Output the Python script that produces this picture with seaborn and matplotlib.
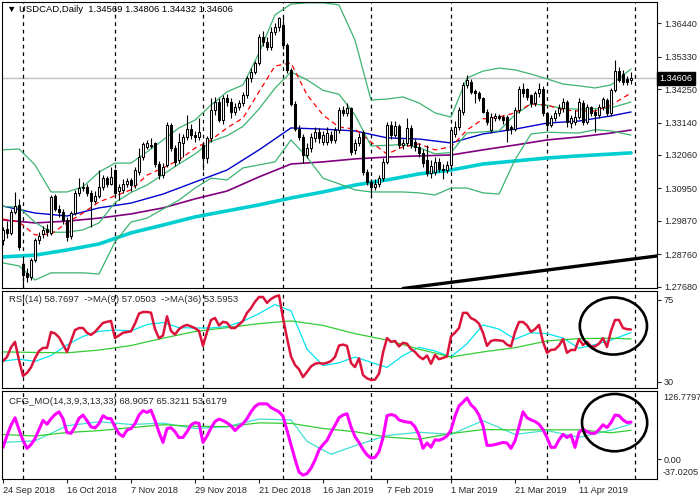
import matplotlib
matplotlib.use("Agg")
import matplotlib.pyplot as plt
import matplotlib.transforms as mtransforms
from matplotlib.patches import Ellipse
import seaborn as sns


# candles (daily bars, 24 Sep 2018 .. 1 May 2019)
opens = [
    1.2923, 1.2960, 1.2948, 1.3017, 1.3040, 1.2845, 1.2815, 1.2800, 1.2858, 1.2923,
    1.2942, 1.2960, 1.2948, 1.3068, 1.3028, 1.3017, 1.2989, 1.2935, 1.3014, 1.3080,
    1.3095, 1.3100, 1.3080, 1.3054, 1.3071, 1.3100, 1.3128, 1.3111, 1.3155, 1.3085,
    1.3088, 1.3111, 1.3122, 1.3106, 1.3150, 1.3200, 1.3233, 1.3235, 1.3245, 1.3176,
    1.3139, 1.3172, 1.3305, 1.3228, 1.3189, 1.3245, 1.3265, 1.3294, 1.3272, 1.3266,
    1.3240, 1.3195, 1.3261, 1.3355, 1.3383, 1.3322, 1.3394, 1.3383, 1.3350, 1.3366,
    1.3378, 1.3405, 1.3461, 1.3483, 1.3511, 1.3599, 1.3583, 1.3566, 1.3616, 1.3633,
    1.3638, 1.3572, 1.3488, 1.3377, 1.3294, 1.3267, 1.3206, 1.3228, 1.3262, 1.3283,
    1.3248, 1.3250, 1.3273, 1.3256, 1.3289, 1.3356, 1.3345, 1.3361, 1.3222, 1.3245,
    1.3283, 1.3150, 1.3117, 1.3100, 1.3111, 1.3128, 1.3184, 1.3306, 1.3272, 1.3302,
    1.3239, 1.3245, 1.3295, 1.3250, 1.3234, 1.3211, 1.3190, 1.3145, 1.3150, 1.3184,
    1.3161, 1.3155, 1.3173, 1.3275, 1.3300, 1.3350, 1.3439, 1.3450, 1.3420, 1.3411,
    1.3394, 1.3350, 1.3289, 1.3330, 1.3336, 1.3333, 1.3333, 1.3300, 1.3294, 1.3355,
    1.3425, 1.3425, 1.3405, 1.3378, 1.3411, 1.3427, 1.3344, 1.3306, 1.3328, 1.3344,
    1.3361, 1.3383, 1.3313, 1.3317, 1.3333, 1.3380, 1.3317, 1.3366, 1.3350, 1.3339,
    1.3366, 1.3389, 1.3344, 1.3422, 1.3486, 1.3475, 1.3460, 1.34569,
]
highs = [
    1.2965, 1.2985, 1.3025, 1.3084, 1.3060, 1.2870, 1.2830, 1.2865, 1.2930, 1.2950,
    1.2970, 1.2975, 1.3072, 1.3075, 1.3040, 1.3025, 1.3000, 1.3020, 1.3090, 1.3130,
    1.3115, 1.3110, 1.3090, 1.3085, 1.3155, 1.3140, 1.3135, 1.3165, 1.3160, 1.3110,
    1.3125, 1.3130, 1.3130, 1.3165, 1.3228, 1.3250, 1.3255, 1.3262, 1.3250, 1.3185,
    1.3180, 1.3315, 1.3312, 1.3240, 1.3280, 1.3275, 1.3340, 1.3310, 1.3285, 1.3330,
    1.3250, 1.3270, 1.3395, 1.3400, 1.3395, 1.3405, 1.3410, 1.3395, 1.3380, 1.3390,
    1.3415, 1.3470, 1.3495, 1.3520, 1.3610, 1.3620, 1.3600, 1.3630, 1.3645, 1.3665,
    1.3668, 1.3580, 1.3495, 1.3385, 1.3305, 1.3275, 1.3245, 1.3280, 1.3300, 1.3295,
    1.3285, 1.3300, 1.3285, 1.3300, 1.3365, 1.3370, 1.3378, 1.3365, 1.3260, 1.3280,
    1.3290, 1.3160, 1.3125, 1.3125, 1.3140, 1.3195, 1.3315, 1.3320, 1.3320, 1.3310,
    1.3260, 1.3330, 1.3305, 1.3260, 1.3245, 1.3225, 1.3240, 1.3190, 1.3200, 1.3195,
    1.3175, 1.3185, 1.3300, 1.3320, 1.3365, 1.3450, 1.3472, 1.3460, 1.3425, 1.3420,
    1.3400, 1.3360, 1.3345, 1.3345, 1.3342, 1.3340, 1.3340, 1.3305, 1.3365, 1.3435,
    1.3445, 1.3430, 1.3410, 1.3420, 1.3445, 1.3435, 1.3350, 1.3340, 1.3355, 1.3375,
    1.3395, 1.3390, 1.3340, 1.3355, 1.3395, 1.3390, 1.3375, 1.3370, 1.3360, 1.3375,
    1.3400, 1.3395, 1.3430, 1.3522, 1.3500, 1.3490, 1.3470, 1.34806,
]
lows = [
    1.2905, 1.2930, 1.2940, 1.3010, 1.2890, 1.2768, 1.2782, 1.2790, 1.2850, 1.2910,
    1.2930, 1.2935, 1.2940, 1.3020, 1.3000, 1.2975, 1.2920, 1.2928, 1.3005, 1.3070,
    1.3085, 1.3070, 1.2967, 1.3045, 1.3062, 1.3090, 1.3100, 1.3105, 1.3070, 1.3055,
    1.3080, 1.3100, 1.3085, 1.3095, 1.3140, 1.3190, 1.3225, 1.3228, 1.3165, 1.3125,
    1.3130, 1.3165, 1.3220, 1.3170, 1.3180, 1.3200, 1.3255, 1.3260, 1.3250, 1.3255,
    1.3155, 1.3180, 1.3250, 1.3340, 1.3315, 1.3310, 1.3370, 1.3330, 1.3340, 1.3355,
    1.3370, 1.3395, 1.3450, 1.3475, 1.3505, 1.3570, 1.3555, 1.3555, 1.3605, 1.3620,
    1.3560, 1.3480, 1.3370, 1.3285, 1.3255, 1.3178, 1.3195, 1.3215, 1.3250, 1.3245,
    1.3240, 1.3240, 1.3245, 1.3245, 1.3280, 1.3335, 1.3335, 1.3205, 1.3210, 1.3235,
    1.3140, 1.3105, 1.3067, 1.3090, 1.3100, 1.3120, 1.3175, 1.3260, 1.3265, 1.3230,
    1.3225, 1.3235, 1.3230, 1.3220, 1.3200, 1.3165, 1.3135, 1.3130, 1.3140, 1.3150,
    1.3125, 1.3145, 1.3160, 1.3265, 1.3290, 1.3340, 1.3430, 1.3410, 1.3380, 1.3385,
    1.3345, 1.3305, 1.3280, 1.3320, 1.3322, 1.3310, 1.3250, 1.3275, 1.3285, 1.3345,
    1.3400, 1.3390, 1.3365, 1.3370, 1.3400, 1.3335, 1.3295, 1.3300, 1.3320, 1.3335,
    1.3350, 1.3300, 1.3295, 1.3305, 1.3325, 1.3305, 1.3310, 1.3335, 1.3283, 1.3330,
    1.3355, 1.3335, 1.3335, 1.3415, 1.3450, 1.3440, 1.3440, 1.34432,
]
closes = [
    1.2956, 1.2948, 1.3017, 1.3036, 1.2901, 1.2806, 1.2800, 1.2858, 1.2923, 1.2936,
    1.2956, 1.2950, 1.3065, 1.3028, 1.3017, 1.2989, 1.2932, 1.3014, 1.3080, 1.3095,
    1.3100, 1.3080, 1.3054, 1.3071, 1.3100, 1.3128, 1.3111, 1.3133, 1.3080, 1.3100,
    1.3111, 1.3120, 1.3106, 1.3156, 1.3200, 1.3244, 1.3245, 1.3240, 1.3176, 1.3139,
    1.3167, 1.3305, 1.3228, 1.3183, 1.3250, 1.3265, 1.3294, 1.3272, 1.3266, 1.3283,
    1.3195, 1.3261, 1.3355, 1.3383, 1.3322, 1.3394, 1.3383, 1.3350, 1.3366, 1.3378,
    1.3405, 1.3461, 1.3483, 1.3511, 1.3599, 1.3583, 1.3566, 1.3616, 1.3633, 1.3660,
    1.3572, 1.3488, 1.3377, 1.3294, 1.3267, 1.3206, 1.3228, 1.3267, 1.3283, 1.3261,
    1.3272, 1.3278, 1.3256, 1.3289, 1.3356, 1.3345, 1.3361, 1.3217, 1.3245, 1.3267,
    1.3150, 1.3117, 1.3100, 1.3111, 1.3128, 1.3184, 1.3306, 1.3272, 1.3302, 1.3239,
    1.3245, 1.3295, 1.3239, 1.3234, 1.3211, 1.3178, 1.3145, 1.3170, 1.3184, 1.3161,
    1.3155, 1.3173, 1.3289, 1.3300, 1.3356, 1.3439, 1.3455, 1.3417, 1.3411, 1.3394,
    1.3350, 1.3317, 1.3333, 1.3336, 1.3330, 1.3322, 1.3289, 1.3294, 1.3355, 1.3427,
    1.3411, 1.3400, 1.3378, 1.3411, 1.3427, 1.3344, 1.3306, 1.3328, 1.3344, 1.3361,
    1.3383, 1.3317, 1.3328, 1.3333, 1.3383, 1.3317, 1.3366, 1.3344, 1.3339, 1.3366,
    1.3391, 1.3344, 1.3422, 1.3486, 1.3457, 1.3450, 1.3450, 1.34606,
]

# main window indicators, read every few bars
bb_bars = [0, 4, 8, 12, 16, 20, 24, 28, 32, 36, 40, 44, 48, 52, 56, 60, 64, 68, 72, 76,
           80, 84, 88, 92, 96, 100, 104, 108, 112, 116, 120, 124, 128, 132, 136, 140,
           144, 148, 152, 157]
bb_upper = [1.3223, 1.3226, 1.3173, 1.3083, 1.3083, 1.3100, 1.3149, 1.3179, 1.3179, 1.3216,
            1.3256, 1.3296, 1.3322, 1.3372, 1.3416, 1.3439, 1.3545, 1.3672, 1.3708, 1.3712,
            1.3712, 1.3705, 1.3588, 1.3389, 1.3392, 1.3399, 1.3379, 1.3346, 1.3332, 1.3462,
            1.3485, 1.3495, 1.3489, 1.3475, 1.3459, 1.3442, 1.3436, 1.3429, 1.3439, 1.3492]
bb_middle = [1.3035, 1.3032, 1.2982, 1.2949, 1.2949, 1.2957, 1.2980, 1.3048, 1.3081, 1.3106,
             1.3141, 1.3176, 1.3209, 1.3251, 1.3270, 1.3301, 1.3359, 1.3428, 1.3482, 1.3456,
             1.3421, 1.3408, 1.3339, 1.3236, 1.3238, 1.3241, 1.3230, 1.3210, 1.3214, 1.3279,
             1.3283, 1.3286, 1.3340, 1.3376, 1.3371, 1.3361, 1.3358, 1.3360, 1.3363, 1.3382]
bb_lower = [1.2847, 1.2837, 1.2790, 1.2814, 1.2814, 1.2814, 1.2810, 1.2917, 1.2983, 1.2996,
            1.3026, 1.3056, 1.3096, 1.3129, 1.3123, 1.3163, 1.3173, 1.3183, 1.3256, 1.3199,
            1.3129, 1.3110, 1.3090, 1.3083, 1.3083, 1.3083, 1.3080, 1.3073, 1.3096, 1.3096,
            1.3080, 1.3076, 1.3190, 1.3276, 1.3282, 1.3280, 1.3279, 1.3290, 1.3286, 1.3272]
ma_fast = [1.2993, 1.2983, 1.2940, 1.2943, 1.2980, 1.3013, 1.3050, 1.3070, 1.3090, 1.3139,
           1.3163, 1.3189, 1.3229, 1.3256, 1.3296, 1.3329, 1.3416, 1.3502, 1.3512, 1.3406,
           1.3339, 1.3299, 1.3292, 1.3249, 1.3209, 1.3233, 1.3243, 1.3223, 1.3233, 1.3289,
           1.3326, 1.3332, 1.3346, 1.3376, 1.3372, 1.3356, 1.3352, 1.3352, 1.3372, 1.3412]

ma_bars = [0, 8, 16, 24, 32, 40, 48, 56, 64, 72, 80, 88, 96, 104, 112, 120, 128, 136,
           144, 152, 157]
ma_blue = [1.3036, 1.3013, 1.3003, 1.3030, 1.3046, 1.3076, 1.3116, 1.3156, 1.3223, 1.3296,
           1.3292, 1.3286, 1.3263, 1.3259, 1.3246, 1.3276, 1.3292, 1.3312, 1.3319, 1.3336,
           1.3349]
ma_purple = [1.2990, 1.2980, 1.2986, 1.2996, 1.3010, 1.3030, 1.3060, 1.3086, 1.3133, 1.3176,
             1.3183, 1.3193, 1.3199, 1.3203, 1.3206, 1.3223, 1.3239, 1.3256, 1.3266, 1.3279,
             1.3289]
ma_cyan = [1.2867, 1.2873, 1.2890, 1.2910, 1.2947, 1.2973, 1.3000, 1.3020, 1.3040, 1.3063,
           1.3083, 1.3106, 1.3123, 1.3143, 1.3156, 1.3176, 1.3186, 1.3196, 1.3203, 1.3209,
           1.3213]

trend_bars = [100, 164]
trend_prices = [1.2762, 1.2871]

# RSI window
rsi = [
    41.5, 43.7, 49.0, 52.0, 42.0, 33.3, 35.0, 38.0, 43.0, 47.0,
    48.7, 48.7, 57.4, 56.6, 54.5, 50.5, 46.5, 52.5, 58.5, 59.6,
    59.6, 57.0, 55.8, 57.5, 60.0, 62.4, 63.0, 63.5, 54.1, 55.5,
    57.0, 57.4, 57.8, 62.0, 67.5, 68.4, 68.4, 68.0, 59.0, 54.0,
    55.5, 66.0, 58.0, 56.0, 59.0, 60.5, 61.3, 60.5, 59.5, 58.0,
    49.8, 57.4, 64.0, 65.1, 61.0, 63.0, 62.5, 59.6, 59.6, 61.5,
    63.5, 67.9, 70.5, 74.0, 76.6, 76.6, 73.4, 75.5, 76.8, 77.5,
    65.1, 54.1, 44.0, 39.3, 37.0, 32.7, 35.5, 38.5, 40.0, 40.4,
    40.0, 40.5, 41.5, 43.7, 50.0, 50.5, 49.8, 40.4, 38.2, 43.0,
    33.8, 32.0, 31.1, 31.3, 34.5, 46.0, 54.1, 52.0, 52.5, 49.5,
    51.5, 51.0, 48.0, 46.5, 44.0, 42.5, 44.5, 40.0, 44.8, 42.5,
    43.2, 44.0, 55.0, 57.0, 59.6, 67.9, 67.9, 65.0, 64.0, 62.0,
    57.0, 49.8, 52.5, 53.0, 52.8, 52.5, 50.5, 49.5, 57.4, 62.9,
    62.9, 61.0, 57.5, 59.0, 61.3, 52.0, 46.0, 47.6, 47.8, 50.0,
    53.5, 46.0, 47.6, 47.5, 53.5, 50.3, 52.0, 49.5, 49.5, 51.0,
    54.0, 49.2, 58.0, 64.0, 64.0, 59.6, 59.0, 58.7697,
]
rsi_ma9_bars = [0, 4, 8, 12, 16, 20, 24, 28, 32, 36, 40, 44, 48, 52, 56, 60, 64, 68, 72, 76,
                80, 84, 88, 92, 96, 100, 104, 108, 112, 116, 120, 124, 128, 132, 136, 140,
                144, 148, 152, 157]
rsi_ma9 = [41.5, 42.5, 41.3, 44.5, 50.3, 55.0, 57.8, 58.5, 58.0, 61.5,
           62.6, 59.8, 59.6, 59.6, 60.5, 63.3, 67.5, 72.5, 69.0, 48.0,
           39.0, 40.5, 43.7, 40.8, 38.0, 44.5, 49.0, 47.0, 43.8, 51.0,
           61.3, 59.0, 53.5, 57.0, 56.5, 54.1, 48.5, 50.5, 53.0, 57.05]
rsi_ma36 = [46.5, 46.2, 46.0, 47.5, 50.0, 54.0, 57.7, 59.8, 62.0, 63.5,
            61.0, 56.5, 53.0, 48.0, 43.7, 46.5, 48.8, 52.5, 53.8, 54.0,
            53.6]

# CFG_MO window
cfg = [
    21.9, 44.0, 63.0, 77.0, 55.0, 34.8, 20.0, 27.0, 38.0, 55.0,
    72.0, 65.0, 75.0, 83.0, 88.0, 75.3, 49.5, 48.0, 60.0, 76.0,
    82.0, 71.6, 60.0, 58.0, 66.0, 80.8, 76.0, 75.3, 60.0, 47.0,
    42.1, 54.0, 56.8, 66.0, 82.0, 90.0, 87.0, 91.0, 72.0, 50.0,
    31.1, 56.8, 58.5, 51.0, 40.0, 40.5, 51.0, 63.5, 67.9, 66.5,
    31.1, 43.0, 58.0, 70.0, 74.5, 71.6, 67.5, 62.0, 53.2, 60.5,
    66.0, 75.3, 88.0, 98.0, 102.9, 103.0, 102.9, 96.0, 92.0, 88.0,
    80.0, 53.2, 26.0, 0.0, -24.1, -29.7, -27.0, -17.0, -2.0, 17.0,
    27.0, 34.8, 50.0, 63.0, 77.0, 82.0, 84.4, 60.0, 42.0, 31.0,
    18.0, 8.0, 2.0, 3.0, 14.0, 40.0, 80.8, 83.0, 81.0, 73.0,
    70.5, 69.0, 68.0, 60.0, 45.0, 20.0, 30.0, 22.0, 36.0, 35.0,
    38.0, 43.0, 54.0, 80.0, 99.0, 106.0, 113.9, 101.0, 94.0, 82.0,
    62.0, 25.6, 25.6, 27.0, 29.0, 31.1, 30.0, 20.0, 34.0, 60.0,
    88.1, 77.0, 73.0, 70.0, 65.0, 55.0, 40.3, 21.9, 21.9, 36.0,
    46.0, 40.3, 45.0, 21.9, 50.0, 56.0, 51.0, 48.0, 48.0, 55.0,
    64.0, 58.7, 68.0, 82.0, 81.0, 73.0, 68.0, 68.9057,
]
cfg_fast_bars = [0, 8, 16, 24, 32, 40, 48, 56, 64, 72, 76, 82, 88, 96, 104, 112, 120, 128,
                 136, 144, 152, 157]
cfg_fast = [31.1, 34.0, 62.0, 69.5, 64.5, 67.0, 57.0, 60.5, 74.5, 73.0, 33.0, 9.0, 25.0,
            44.0, 50.0, 46.0, 71.6, 46.0, 53.2, 40.5, 54.0, 65.3211]
cfg_slow = [45.8, 43.0, 49.5, 53.0, 58.5, 64.0, 61.0, 60.5, 67.5, 66.5, 57.0, 51.0,
            41.0, 37.0, 47.6, 55.0, 54.5, 54.5, 54.5, 49.0, 53.6179]

date_labels = ["24 Sep 2018", "16 Oct 2018", "7 Nov 2018", "29 Nov 2018", "21 Dec 2018",
               "16 Jan 2019", "7 Feb 2019", "1 Mar 2019", "21 Mar 2019", "11 Apr 2019"]
month_starts = [5, 28, 50, 70, 92, 112, 136, 158]
price_ticks = [1.36440, 1.35330, 1.34250, 1.33140, 1.32060, 1.30950, 1.29870, 1.28760, 1.27680]
last_price = 1.34606


sns.set_style("white")
plt.rcParams["font.family"] = ["Liberation Sans", "DejaVu Sans"]
plt.rcParams["axes.linewidth"] = 0.8

FS = 6.8
X_LEFT, X_RIGHT = -0.25, 163.5


def draw_line(ax, bars, values, color, lw, ls="-"):
    sns.lineplot(x=bars, y=values, ax=ax, color=color, linewidth=lw,
                 linestyle=ls, legend=False, sort=False, estimator=None)


def frame(ax):
    for side in ["top", "bottom", "left", "right"]:
        ax.spines[side].set_visible(True)
        ax.spines[side].set_color("black")
    ax.set_xlim(X_LEFT, X_RIGHT)
    ax.yaxis.tick_right()
    ax.tick_params(axis="y", direction="out", length=3, width=0.8, labelsize=6.6, pad=2)
    ax.set_xlabel("")
    ax.set_ylabel("")
    for b in month_starts:
        ax.axvline(b, color="black", linewidth=0.9, linestyle=(0, (3, 3)), zorder=1)


fig = plt.figure(figsize=(7, 5), dpi=100)
fig.patch.set_facecolor("white")
ax_price = fig.add_axes([2 / 700, 1 - 288 / 500, 655 / 700, 286 / 500])
ax_rsi = fig.add_axes([2 / 700, 1 - 388 / 500, 655 / 700, 97 / 500])
ax_cfg = fig.add_axes([2 / 700, 1 - 479 / 500, 655 / 700, 88 / 500])

# ---- price window
ax = ax_price
ax.axhline(last_price, color="#C0C0C0", linewidth=1, zorder=1)
draw_line(ax, ma_bars, ma_cyan, "#00CED1", 2.6)
draw_line(ax, ma_bars, ma_purple, "#800080", 1.2)
draw_line(ax, ma_bars, ma_blue, "#0000CD", 1.0)
draw_line(ax, bb_bars, bb_upper, "#3CB371", 0.9)
draw_line(ax, bb_bars, bb_middle, "#3CB371", 0.9)
draw_line(ax, bb_bars, bb_lower, "#3CB371", 0.9)
draw_line(ax, bb_bars, ma_fast, "red", 0.9, (0, (4, 3)))
draw_line(ax, trend_bars, trend_prices, "black", 2.4)

bar_x = list(range(len(closes)))
ax.vlines(bar_x, lows, highs, color="black", linewidth=0.8, zorder=4)
body_low = [min(o, c) for o, c in zip(opens, closes)]
body_h = [max(abs(c - o), 0.00004) for o, c in zip(opens, closes)]
body_col = ["white" if c >= o else "black" for o, c in zip(opens, closes)]
ax.bar(bar_x, body_h, bottom=body_low, width=0.72, color=body_col,
       edgecolor="black", linewidth=0.75, zorder=5)

frame(ax)
ax.set_ylim(1.27636, 1.37148)
ax.set_yticks(price_ticks)
ax.set_yticklabels([f"{v:.5f}" for v in price_ticks])
ax.set_xticks([])
blend = mtransforms.blended_transform_factory(ax.transAxes, ax.transData)
ax.text(1.004, last_price, f"{last_price:.5f}", transform=blend, ha="left", va="center",
        fontsize=6.6, color="white",
        bbox=dict(boxstyle="square,pad=0.25", facecolor="black", edgecolor="black"))
fig.text(7 / 700, 1 - 10 / 500, "\u25bc USDCAD,Daily  1.34569 1.34806 1.34432 1.34606",
         fontsize=FS, va="center", ha="left", color="black")

# ---- RSI window
ax = ax_rsi
draw_line(ax, rsi_ma9_bars, rsi_ma9, "#00E5EE", 0.9)
draw_line(ax, ma_bars, rsi_ma36, "#32CD32", 0.9)
draw_line(ax, bar_x, rsi, "#DC143C", 1.8)
frame(ax)
ax.set_ylim(26.7, 79.9)
ax.set_yticks([75, 30])
ax.set_yticklabels(["75", "30"])
ax.set_xticks([])
ax.add_patch(Ellipse((152.6, 60.7), 16.8, 31.3, fill=False, edgecolor="black",
                     linewidth=1.9, zorder=6))
ax.text(7 / 655, 1 - 9 / 97, "RSI(14) 58.7697  ->MA(9) 57.0503  ->MA(36) 53.5953",
        transform=ax.transAxes, fontsize=FS, va="center", ha="left")

# ---- CFG_MO window
ax = ax_cfg
draw_line(ax, cfg_fast_bars, cfg_fast, "#40E0D0", 0.9)
draw_line(ax, ma_bars, cfg_slow, "#32CD32", 0.9)
draw_line(ax, bar_x, cfg, "#FF00FF", 2.2)
frame(ax)
ax.set_ylim(-37.0205, 126.7797)
ax.set_yticks([0])
ax.set_yticklabels(["0.00"])
blend = mtransforms.blended_transform_factory(ax.transAxes, ax.transData)
ax.text(1.009, 126.7797 - 4, "126.7797", transform=blend, fontsize=6.6, va="top", ha="left")
ax.text(1.009, -37.0205 + 4, "-37.0205", transform=blend, fontsize=6.6, va="bottom", ha="left")
ax.add_patch(Ellipse((152.9, 67.9), 16.3, 106.7, fill=False, edgecolor="black",
                     linewidth=1.9, zorder=6))
ax.text(7 / 655, 1 - 10 / 88, "CFG_MO(14,3,9,3,13,33) 68.9057 65.3211 53.6179",
        transform=ax.transAxes, fontsize=FS, va="center", ha="left")
ax.set_xticks(list(range(0, 16 * len(date_labels), 16)))
ax.set_xticklabels(date_labels, ha="left")
ax.tick_params(axis="x", direction="out", length=3, width=0.8, labelsize=6.6, pad=2,
               bottom=True)

fig.savefig("out.png", dpi=100, facecolor="white")
plt.close(fig)
